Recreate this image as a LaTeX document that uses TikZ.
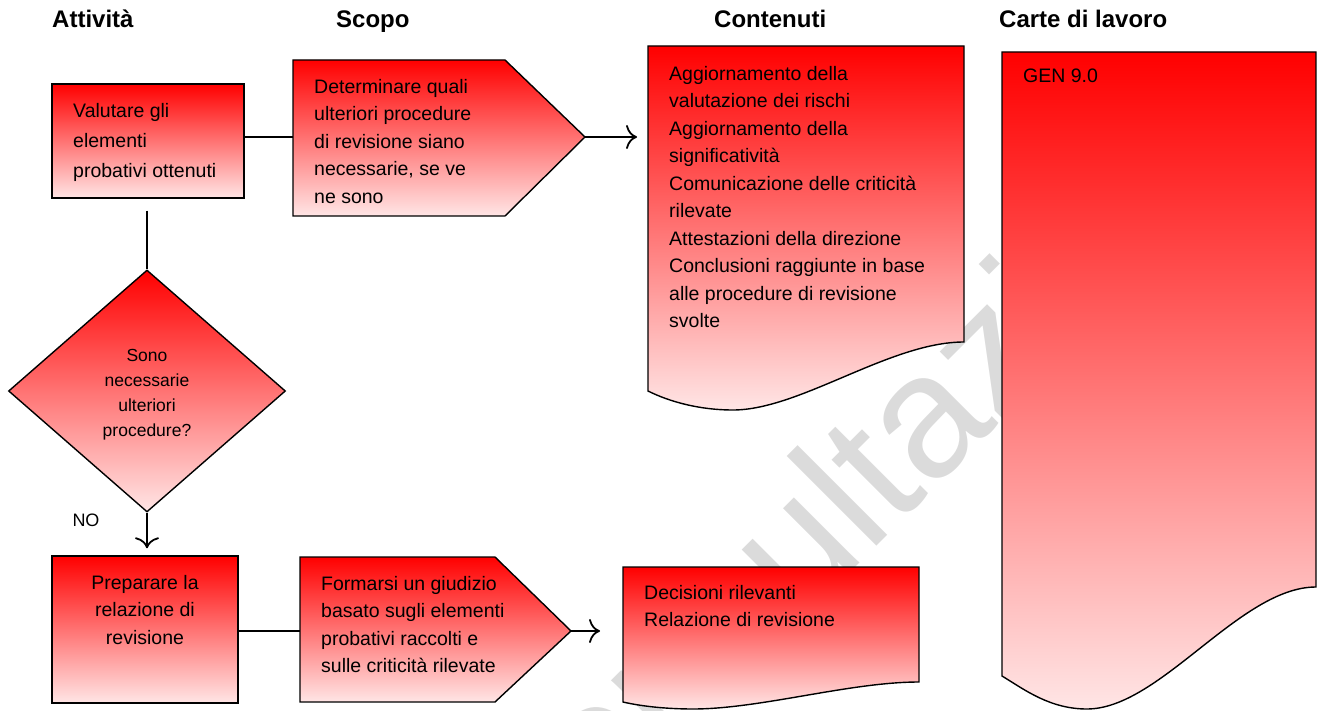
\documentclass[tikz,border=0pt]{standalone}
\usepackage{fontspec}
\setmainfont{Liberation Sans}
\usetikzlibrary{arrows.meta,shapes.geometric,positioning}
\tikzset{
    red shade/.style = {
        draw = black,
        line width = 1.4pt,
        top color = red,
        bottom color = red!10,
        },
    box/.style = {
        red shade,
        rectangle,
        inner sep = 0pt,
        },
    txt/.style = {
        anchor = north west,
        align = left,
        inner sep = 0pt,
        font = \fontsize{19.5}{27.5}\selectfont,
        },
    small txt/.style = {
        inner sep = 0pt,
        align = center,
        font = \fontsize{17.5}{25}\selectfont,
        },
    header/.style = {
        anchor = base west,
        inner sep = 0pt,
        font = \fontsize{24}{28}\selectfont\bfseries,
        },
    link/.style = {
        draw = black,
        line width = 1.2pt,
        },
    arrow/.style = {
        link,
        -{Computer Modern Rightarrow[length=11pt, width=24pt, line width=1.8pt]},
        },
    watermark/.style = {
        rotate = 45,
        anchor = base west,
        inner sep = 0pt,
        text = black!14,
        font = \fontsize{175}{175}\selectfont,
        },
}

\begin{document}
\begin{tikzpicture}[x=1pt, y=-1pt]
    \useasboundingbox (0,0) rectangle (1317,711);

    % watermark
    \begin{scope}
        \clip (0,0) rectangle (1317,711);
        \node[watermark] (mark) at (538,885) {consultazione};
    \end{scope}

    \node[header] (h1) at (52,28) {Attività};
    \node[header] (h2) at (336,28) {Scopo};
    \node[header] (h3) at (714,28) {Contenuti};
    \node[header] (h4) at (999,28) {Carte di lavoro};

    % first row
    \node[box, minimum width=192pt, minimum height=114pt] (val) at (148,141) {};
    \node[txt, font=\fontsize{19.5}{30}\selectfont] (val text) at (73,103)
        {Valutare gli\\ elementi\\ probativi ottenuti};

    \draw[red shade] (293,60) -- (505,60) -- (585,137) -- (505,216) -- (293,216) -- cycle;
    \coordinate (det-w) at (293,137);
    \coordinate (det-e) at (585,137);
    \node[txt] (det) at (314,79)
        {Determinare quali\\ ulteriori procedure\\ di revisione siano\\ necessarie, se ve\\ ne sono};

    \draw[red shade] (648,46) -- (964,46) -- (964,342)
        .. controls (890,342) and (800,410) .. (733,410)
        .. controls (700,410) and (670,402) .. (648,391) -- cycle;
    \coordinate (cont-in) at (637,137);
    \node[txt] (cont) at (669,66)
        {Aggiornamento della\\ valutazione dei rischi\\ Aggiornamento della\\ significatività\\
         Comunicazione delle criticità\\ rilevate\\ Attestazioni della direzione\\
         Conclusioni raggiunte in base\\ alle procedure di revisione\\ svolte};

    \draw[red shade] (1002,52) -- (1316,52) -- (1316,587)
        .. controls (1240,587) and (1160,709) .. (1087,709)
        .. controls (1050,709) and (1025,690) .. (1002,676) -- cycle;
    \node[txt] (carte) at (1023,69) {GEN 9.0};

    \draw[link] (val.east |- det-w) -- (det-w);
    \draw[arrow] (det-e) -- (cont-in);

    % decision
    \node[diamond, red shade, minimum width=277pt, minimum height=242pt, inner sep=0pt]
        (dia) at (147,391) {};
    \node[small txt] (dia text) at ([yshift=-4pt]dia.center)
        {Sono\\ necessarie\\ ulteriori\\ procedure?};
    \draw[link] ([yshift=-12pt]dia.north |- val.south) -- (dia.north);

    % second row
    \node[box, minimum width=186pt, minimum height=147pt] (prep) at (145,629.5) {};
    \node[txt, anchor=north, align=center] (prep text) at (145,575)
        {Preparare la\\ relazione di\\ revisione};
    \coordinate (no-end) at ([yshift=7pt]prep.north);
    \draw[arrow] (dia.south) -- (dia.south |- no-end);
    \node[small txt, font=\fontsize{18}{20}\selectfont] (no) at (86,520) {NO};

    \draw[red shade] (300,557) -- (495,557) -- (571,631) -- (495,702) -- (300,702) -- cycle;
    \coordinate (form-w) at (300,631);
    \coordinate (form-e) at (571,631);
    \node[txt] (form) at (321,576)
        {Formarsi un giudizio\\ basato sugli elementi\\ probativi raccolti e\\ sulle criticità rilevate};

    \draw[red shade] (623,567) -- (919,567) -- (919,682)
        .. controls (850,682) and (760,709) .. (693,709)
        .. controls (665,709) and (640,706) .. (623,702) -- cycle;
    \coordinate (dec-in) at (600,631);
    \node[txt] (dec) at (644,585) {Decisioni rilevanti\\ Relazione di revisione};

    \draw[link] (prep.east |- form-w) -- (form-w);
    \draw[arrow] (form-e) -- (dec-in);
\end{tikzpicture}
\end{document}
